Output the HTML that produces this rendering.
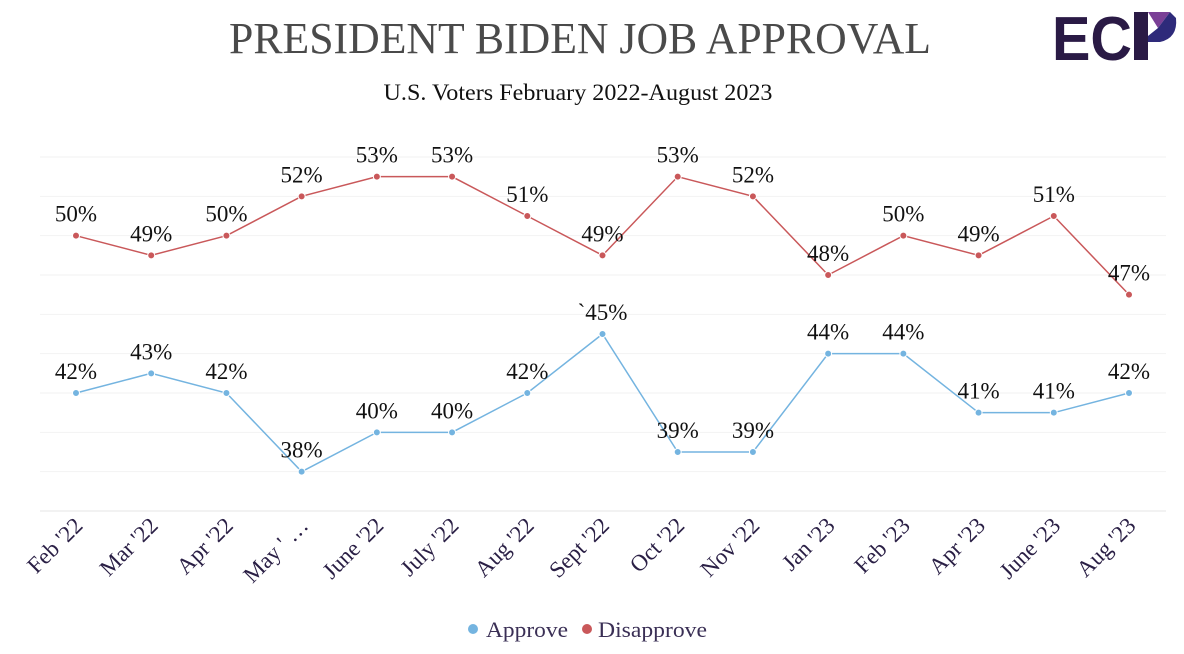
<!DOCTYPE html>
<html><head><meta charset="utf-8"><style>
body{margin:0;background:#fff;width:1184px;height:654px;overflow:hidden}
svg{display:block}
</style></head><body>
<svg id="chart" width="1184" height="654" xmlns="http://www.w3.org/2000/svg">
<text x="580" y="53" text-anchor="middle" font-family="Liberation Serif, serif" font-size="44" fill="#4a4a4a" textLength="702" lengthAdjust="spacingAndGlyphs">PRESIDENT BIDEN JOB APPROVAL</text>
<text x="578" y="100" text-anchor="middle" font-family="Liberation Serif, serif" font-size="23" fill="#111" textLength="389" lengthAdjust="spacingAndGlyphs">U.S. Voters February 2022-August 2023</text>
<g>
<text x="1052" y="60" font-family="Liberation Sans, sans-serif" font-weight="bold" font-size="62" fill="#2a1a45" textLength="80" lengthAdjust="spacingAndGlyphs">EC</text>
<rect x="1134" y="12" width="14" height="48" fill="#2a1a45"/>
<path d="M1148 12 L1170 12 L1158 28 Z" fill="#7a3f96"/>
<path d="M1170 12 L1176 18 Q1178 38 1160 42 L1148 42 L1148 36 L1158 28 Z" fill="#2e2a7a"/>
</g>
<g id="grid"></g>
<g id="xaxis"></g>
<g id="series"></g>
<g>
<g><circle cx="473" cy="629" r="5" fill="#74b4e0"/><text x="486" y="637" font-family="Liberation Serif, serif" font-size="22" fill="#3a2f55" textLength="82" lengthAdjust="spacingAndGlyphs">Approve</text></g>
<g><circle cx="587" cy="629" r="5" fill="#c9585a"/><text x="598" y="637" font-family="Liberation Serif, serif" font-size="22" fill="#3a2f55" textLength="109" lengthAdjust="spacingAndGlyphs">Disapprove</text></g>
</g>
</svg>
<script>
const categories=["Feb '22","Mar '22","Apr '22","May ' …","June '22","July '22","Aug '22","Sept '22","Oct '22","Nov '22","Jan '23","Feb '23","Apr '23","June '23","Aug '23"];
const approve=[42,43,42,38,40,40,42,45,39,39,44,44,41,41,42];
const disapprove=[50,49,50,52,53,53,51,49,53,52,48,50,49,51,47];
const approveLabels=["42%","43%","42%","38%","40%","40%","42%","`45%","39%","39%","44%","44%","41%","41%","42%"];
const yTicks=[36,38,40,42,44,46,48,50,52,54];
const NS="http://www.w3.org/2000/svg";
const x=i=>76+i*(1129-76)/(categories.length-1);
const y=v=>511-(v-36)*(511-157)/18;
function mk(t,a,p){const e=document.createElementNS(NS,t);for(const k in a)e.setAttribute(k,a[k]);p.appendChild(e);return e;}
const grid=document.getElementById('grid');
yTicks.forEach(v=>{const l=mk('line',{x1:40,x2:1166,y1:y(v),y2:y(v),stroke:v===36?'#e6e6e6':'#f2f2f2','stroke-width':1},grid);

});
const xa=document.getElementById('xaxis');
categories.forEach((c,i)=>{const t=mk('text',{x:x(i)+8,y:527,'text-anchor':'end',transform:`rotate(-45 ${x(i)+8} 527)`,'font-family':'Liberation Serif, serif','font-size':23,fill:'#2a1f45'},xa);t.textContent=c;

});
const sg=document.getElementById('series');
function draw(vals,labels,color,name){
 const p=mk('polyline',{points:vals.map((v,i)=>x(i)+','+y(v)).join(' '),fill:'none',stroke:color,'stroke-width':1.5},sg);
 
 
 vals.forEach((v,i)=>{
  const c=mk('circle',{cx:x(i),cy:y(v),r:3.5,fill:color,stroke:'#fff','stroke-width':1},sg);
  
  
  const t=mk('text',{x:x(i),y:y(v)-14,'text-anchor':'middle','font-family':'Liberation Serif, serif','font-size':23,fill:'#111'},sg);
  t.textContent=labels?labels[i]:v+'%';
  
  
 });
}
draw(disapprove,null,'#c9585a','disapprove');
draw(approve,approveLabels,'#74b4e0','approve');
</script>
</body></html>
